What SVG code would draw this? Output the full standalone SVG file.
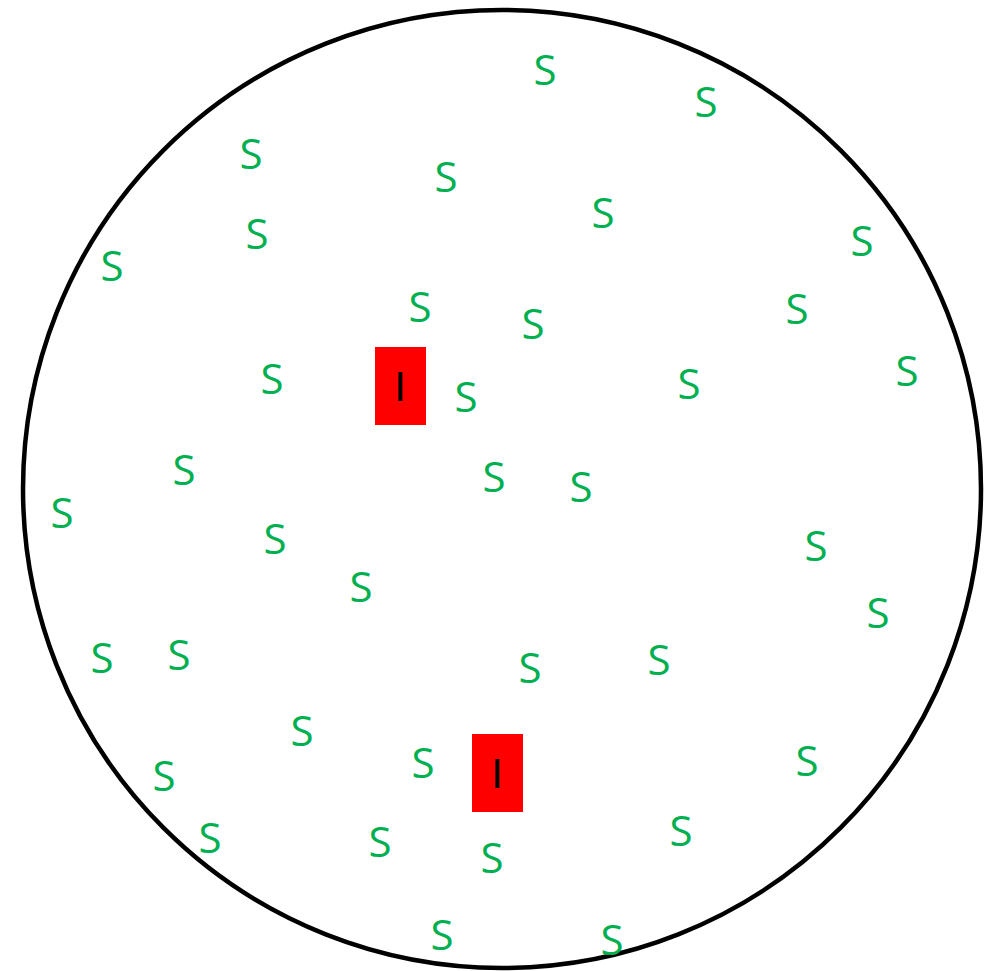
<svg xmlns="http://www.w3.org/2000/svg" width="986" height="971" viewBox="0 0 986 971">
<style>
.s{font-family:"Open Sans","Liberation Sans",sans-serif;font-size:42px;fill:#00B050;text-anchor:middle}
.i{font-family:"Liberation Sans",sans-serif;font-size:42px;fill:#000;text-anchor:middle}
.b{fill:#FF0000}
</style>
<rect width="986" height="971" fill="#fff"/>
<g id="boundary"><circle cx="502" cy="489" r="479" fill="none" stroke="#000" stroke-width="4.5"/></g>
<g id="I1"><rect class="b" x="375" y="347" width="51" height="78"/><text class="i" x="400" y="401">I</text></g>
<g id="I2"><rect class="b" x="472" y="734" width="51" height="78"/><text class="i" x="497" y="788">I</text></g>
<g id="susceptibles">
<text class="s" x="545" y="85">S</text>
<text class="s" x="706" y="117">S</text>
<text class="s" x="251" y="169">S</text>
<text class="s" x="446" y="192">S</text>
<text class="s" x="603" y="228">S</text>
<text class="s" x="257" y="249">S</text>
<text class="s" x="862" y="256">S</text>
<text class="s" x="112" y="281">S</text>
<text class="s" x="420" y="322">S</text>
<text class="s" x="797" y="324">S</text>
<text class="s" x="533" y="339">S</text>
<text class="s" x="272" y="394">S</text>
<text class="s" x="907" y="386">S</text>
<text class="s" x="466" y="412">S</text>
<text class="s" x="689" y="399">S</text>
<text class="s" x="184" y="485">S</text>
<text class="s" x="494" y="492">S</text>
<text class="s" x="581" y="502">S</text>
<text class="s" x="62" y="528">S</text>
<text class="s" x="275" y="554">S</text>
<text class="s" x="816" y="561">S</text>
<text class="s" x="361" y="602">S</text>
<text class="s" x="878" y="628">S</text>
<text class="s" x="102" y="673">S</text>
<text class="s" x="179" y="670">S</text>
<text class="s" x="530" y="683">S</text>
<text class="s" x="659" y="675">S</text>
<text class="s" x="302" y="746">S</text>
<text class="s" x="164" y="791">S</text>
<text class="s" x="423" y="778">S</text>
<text class="s" x="807" y="776">S</text>
<text class="s" x="210" y="853">S</text>
<text class="s" x="380" y="857">S</text>
<text class="s" x="681" y="846">S</text>
<text class="s" x="492" y="873">S</text>
<text class="s" x="442" y="950">S</text>
<text class="s" x="612" y="955">S</text>
</g>
</svg>
